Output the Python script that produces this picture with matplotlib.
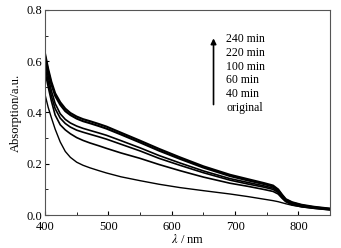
import matplotlib
matplotlib.use('Agg')
import matplotlib.pyplot as plt
from matplotlib.ticker import MultipleLocator

plt.rcParams['font.family'] = ['Liberation Serif', 'DejaVu Serif']
plt.rcParams['mathtext.fontset'] = 'stix'

wl = [400, 405, 410, 416, 424, 432, 440, 450, 460, 471, 485, 497, 520, 550, 580, 613,
      650, 692, 720, 745, 760, 768, 774, 780, 790, 805, 825, 850]
a_240 = [0.63, 0.57, 0.52, 0.475, 0.44, 0.415, 0.398, 0.384, 0.374, 0.366, 0.355, 0.345, 0.321, 0.29, 0.258, 0.225,
         0.19, 0.157, 0.14, 0.125, 0.115, 0.10, 0.08, 0.062, 0.05, 0.04, 0.032, 0.025]
a_220 = [0.62, 0.56, 0.51, 0.465, 0.43, 0.405, 0.39, 0.376, 0.366, 0.358, 0.347, 0.337, 0.314, 0.283, 0.251, 0.219,
         0.185, 0.152, 0.135, 0.121, 0.111, 0.097, 0.077, 0.06, 0.048, 0.038, 0.03, 0.024]
a_100 = [0.60, 0.54, 0.485, 0.435, 0.395, 0.373, 0.359, 0.347, 0.338, 0.33, 0.32, 0.311, 0.29, 0.262, 0.232, 0.203,
         0.172, 0.142, 0.127, 0.114, 0.105, 0.092, 0.073, 0.057, 0.045, 0.036, 0.029, 0.023]
a_60 = [0.58, 0.52, 0.465, 0.415, 0.378, 0.357, 0.343, 0.331, 0.323, 0.315, 0.305, 0.296, 0.276, 0.25, 0.221, 0.194,
        0.165, 0.136, 0.121, 0.109, 0.10, 0.088, 0.07, 0.055, 0.043, 0.034, 0.028, 0.022]
a_40 = [0.56, 0.50, 0.445, 0.39, 0.352, 0.332, 0.317, 0.302, 0.291, 0.281, 0.27, 0.26, 0.242, 0.221, 0.197, 0.173,
        0.148, 0.124, 0.112, 0.10, 0.092, 0.082, 0.066, 0.052, 0.04, 0.032, 0.026, 0.02]
a_orig = [0.47, 0.42, 0.38, 0.335, 0.285, 0.248, 0.225, 0.206, 0.194, 0.184, 0.173, 0.164, 0.149, 0.134, 0.12, 0.107,
          0.095, 0.082, 0.072, 0.062, 0.056, 0.052, 0.048, 0.044, 0.038, 0.032, 0.026, 0.02]
labels = ['240 min', '220 min', '100 min', '60 min', '40 min', 'original']

fig = plt.figure(figsize=(3.41, 2.48), dpi=100)
ax = fig.add_axes([0.132, 0.133, 0.836, 0.827])

for y, lw in [(a_240, 1.5), (a_220, 1.5), (a_100, 1.2), (a_60, 1.2), (a_40, 1.2), (a_orig, 1.0)]:
    ax.plot(wl, y, color='black', linewidth=lw)

ax.set_xlim(400, 850)
ax.set_ylim(0, 0.8)
ax.xaxis.set_major_locator(MultipleLocator(100))
ax.xaxis.set_minor_locator(MultipleLocator(50))
ax.yaxis.set_major_locator(MultipleLocator(0.2))
ax.yaxis.set_minor_locator(MultipleLocator(0.1))
ax.tick_params(which='both', direction='in', labelsize=9)
ax.tick_params(axis='x', pad=4)
ax.tick_params(axis='y', pad=2)
ax.tick_params(which='major', length=3)
ax.tick_params(which='minor', length=2)
for s in ax.spines.values():
    s.set_color('#555555')

ax.set_xlabel(r'$\lambda$ / nm', fontsize=9, labelpad=0)
ax.set_ylabel('Absorption/a.u.', fontsize=9, labelpad=3)

ax.annotate('', xy=(666, 0.70), xytext=(666, 0.42),
            arrowprops=dict(arrowstyle='-|>', color='black', lw=1.2, mutation_scale=8))
ax.text(686, 0.71, '\n'.join(labels), fontsize=8.5, va='top', ha='left', linespacing=1.2)

fig.savefig('out.png', dpi=100)
